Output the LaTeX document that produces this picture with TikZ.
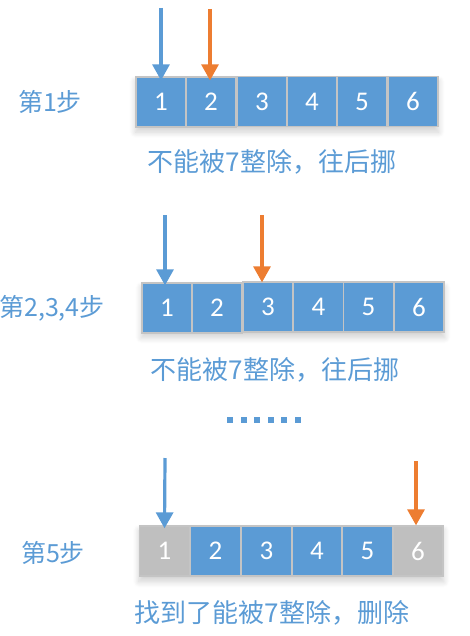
\documentclass[tikz,border=0pt]{standalone}
\usepackage{fontspec}
\setmainfont{Carlito}
\newfontfamily\cjk{Noto Sans CJK SC}
\usetikzlibrary{arrows.meta,shadows.blur,backgrounds}
\definecolor{cblue}{HTML}{5B9BD5}
\definecolor{corange}{HTML}{ED7D31}
\definecolor{cgray}{HTML}{BFBFBF}
\definecolor{cedge}{HTML}{C4C4C4}
\tikzset{
  cell/.style={draw=cedge, line width=1.3pt, fill=cblue, minimum width=50pt, minimum height=50pt,
    inner sep=0pt, text=white, font=\fontsize{27}{30}\selectfont},
  graycell/.style={cell, fill=cgray},
  rowshadow/.style={blur shadow={shadow xshift=0pt, shadow yshift=-5pt, shadow blur radius=6pt,
    shadow opacity=18, shadow blur steps=8}},
  steplabel/.style={text=cblue, font=\cjk\fontsize{25}{28}\selectfont, inner sep=0pt},
  caption/.style={text=cblue, font=\cjk\fontsize{26}{30}\selectfont, inner sep=0pt},
  parrow/.style={line width=3.2pt, -{Triangle[width=17pt,length=16pt]}},
  dotsq/.style={fill=cblue, minimum size=6pt, inner sep=0pt},
}
\begin{document}
\begin{tikzpicture}[x=1pt,y=-1pt]
\useasboundingbox (0,0) rectangle (469,636);
% ---- Row 1 ----
\node[steplabel] (l1) at (50,102) {第1步};
\node[cell] (a1) at (161,102) {1};
\node[cell] (a2) at (211,102) {2};
\node[cell] (a3) at (262,101.5) {3};
\node[cell] (a4) at (312,101.5) {4};
\node[cell] (a5) at (362,101.5) {5};
\node[cell] (a6) at (413,101.5) {6};
\node[caption] (c1) at (272,162) {不能被7整除，往后挪};
\coordinate (p1s) at (161,8);
\coordinate (q1s) at (210,9);
\draw[parrow, cblue] (p1s) -- ([yshift=-4pt]a1.north);
\draw[parrow, corange] (q1s) -- ([yshift=-4pt,xshift=-1pt]a2.north);
% ---- Row 2 ----
\node[steplabel] (l2) at (52,308) {第2,3,4步};
\node[cell] (b1) at (167,308) {1};
\node[cell] (b2) at (217,308) {2};
\node[cell] (b3) at (268,307) {3};
\node[cell] (b4) at (318.5,307) {4};
\node[cell] (b5) at (368.5,307) {5};
\node[cell] (b6) at (419,307) {6};
\node[caption] (c2) at (275,370) {不能被7整除，往后挪};
\coordinate (p2s) at (165,215);
\coordinate (q2s) at (262,215);
\draw[parrow, cblue] (p2s) -- ([yshift=-3pt,xshift=-2pt]b1.north);
\draw[parrow, corange] (q2s) -- ([yshift=-1pt,xshift=-6pt]b3.north);
% ---- dots ----
\foreach \i/\xx in {1/230,2/243.5,3/257,4/270.5,5/284,6/297.5}{
  \node[dotsq] (d\i) at (\xx,420) {};
}
% ---- Row 3 ----
\node[steplabel] (l3) at (53,553) {第5步};
\node[graycell] (e1) at (164.5,551) {1};
\node[cell] (e2) at (215.5,551) {2};
\node[cell] (e3) at (266.5,551) {3};
\node[cell] (e4) at (317,551) {4};
\node[cell] (e5) at (367.5,551) {5};
\node[graycell] (e6) at (418,551) {6};
\node[caption] (c3) at (272,613) {找到了能被7整除，删除};
\coordinate (p3s) at (165,458);
\coordinate (q3s) at (416,461);
\draw[parrow, cblue] (p3s) -- ([yshift=-3pt]e1.north);
\draw[parrow, corange] (q3s) -- ([xshift=-2pt]e6.north);
% ---- shadows behind rows ----
\begin{scope}[on background layer]
  \path[rowshadow] (a1.north west) rectangle (a6.south east);
  \path[rowshadow] (b1.north west) rectangle (b6.south east);
  \path[rowshadow] (e1.north west) rectangle (e6.south east);
\end{scope}
\end{tikzpicture}
\end{document}
